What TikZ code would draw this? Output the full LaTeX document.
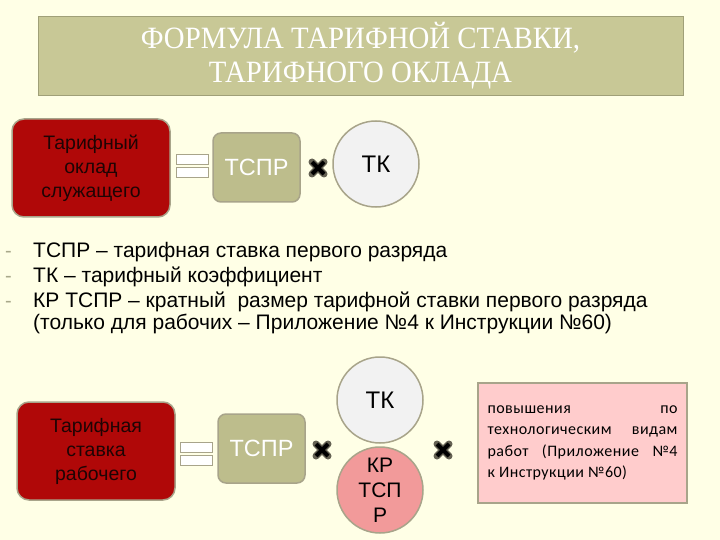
\documentclass[tikz,border=0pt]{standalone}
\usepackage{fontspec}
\setmainfont{Liberation Sans}
\newfontfamily\titlefont[FakeStretch=0.93]{Liberation Serif}
\newfontfamily\notefont[LetterSpace=3]{Carlito}
\usetikzlibrary{positioning}
\definecolor{tfcream}{HTML}{FFFFE6}
\definecolor{tfolive}{HTML}{C8C896}
\definecolor{tfkhaki}{HTML}{BDBD8C}
\definecolor{tfrim}{HTML}{A8A48A}
\definecolor{tfred}{HTML}{B00808}
\definecolor{tfredtxt}{HTML}{1E0404}
\definecolor{tfpink}{HTML}{F29A9A}
\definecolor{tfnote}{HTML}{FFCCCC}
\definecolor{tfgrey}{HTML}{F2F2F2}
\definecolor{tfdash}{HTML}{A8A88A}
\tikzset{
  mult/.pic={
    \draw[tfrim!60!black, line width=7pt, line cap=round] (-6,-6) -- (6,6) (-6,6) -- (6,-6);
    \draw[black, line width=4pt] (-6,-6) -- (6,6) (-6,6) -- (6,-6);
  }
}

\begin{document}
\begin{tikzpicture}[x=1pt, y=-1pt,
  redbox/.style={draw=tfrim, line width=1.5pt, fill=tfred, rounded corners=12pt,
                 minimum width=158pt, minimum height=98pt, align=center,
                 font=\fontsize{19.5}{24}\selectfont\color{tfredtxt}},
  ratebox/.style={draw=tfrim, line width=1.5pt, fill=tfkhaki, rounded corners=8pt,
                  minimum width=87pt, minimum height=69pt, text=white,
                  font=\fontsize{23.5}{25}\selectfont},
  coef/.style={circle, draw=tfrim, line width=1.5pt, fill=tfgrey, minimum size=86pt,
               inner sep=0pt, align=center, font=\fontsize{24}{25}\selectfont},
  eqbar/.style={draw=tfrim, line width=1pt, fill=white, minimum width=32pt,
                minimum height=10pt, inner sep=0pt},
  item/.style={anchor=base west, inner sep=0pt, font=\fontsize{21}{22}\selectfont},
  bullet/.style={anchor=base west, inner sep=0pt, text=tfdash, font=\fontsize{20}{22}\selectfont},
]
\useasboundingbox (0,0) rectangle (720,540);
\fill[tfcream] (0,0) rectangle (720,540);

% heading
\node[fill=tfolive, draw=tfolive!80!black, line width=0.4pt, minimum width=645pt,
      minimum height=79pt, align=center, text=white,
      font=\titlefont\fontsize{31}{34}\selectfont] (head) at (360.5,55.5)
  {ФОРМУЛА ТАРИФНОЙ СТАВКИ,\\ТАРИФНОГО ОКЛАДА};

% salary of an employee
\node[redbox] (salary) at (91,168) {Тарифный\\оклад\\служащего};
\node[eqbar] (eqa1) at (192,160) {};
\node[eqbar] (eqa2) at (192,173) {};
\node[ratebox] (rateA) at (256.5,167.5) {ТСПР};
\pic at (318,168) {mult};
\node[coef] (tkA) at (376,164) {ТК};

% legend
\node[bullet] (d1) at (5,257) {-};
\node[item] (l1) at (33,257) {ТСПР – тарифная ставка первого разряда};
\node[bullet] (d2) at (5,282) {-};
\node[item] (l2) at (33,282) {ТК – тарифный коэффициент};
\node[bullet] (d3) at (5,307) {-};
\node[item] (l3) at (33,307) {КР ТСПР – кратный\ \ размер тарифной ставки первого разряда};
\node[item] (l4) at (33,329) {(только для рабочих – Приложение №4 к Инструкции №60)};

% rate of a worker
\node[redbox] (wage) at (96,451) {Тарифная\\ставка\\рабочего};
\node[eqbar] (eqb1) at (196,447) {};
\node[eqbar] (eqb2) at (196,460) {};
\node[ratebox] (rateB) at (261.5,448.5) {ТСПР};
\pic at (322,450) {mult};
\node[coef] (tkB) at (380,400) {ТК};
\node[coef, fill=tfpink, font=\fontsize{21}{25}\selectfont] (krB) at (380,490) {КР\\ТСП\\Р};
\pic at (443,450) {mult};
\node[draw=tfrim, line width=1.5pt, fill=tfnote, minimum width=209pt, minimum height=120pt,
      text width=190pt, align=justify, font=\notefont\fontsize{16}{21.3}\selectfont] (note) at (582.5,443)
  {повышения по\linebreak технологическим видам\linebreak работ (Приложение №4\linebreak к Инструкции №60)};
\end{tikzpicture}
\end{document}
